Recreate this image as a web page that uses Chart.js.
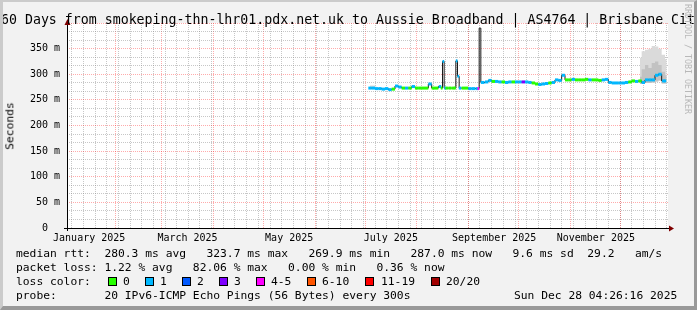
<!DOCTYPE html>
<html>
<head>
<meta charset="utf-8">
<script src="https://cdn.jsdelivr.net/npm/chart.js@4.4.1/dist/chart.umd.min.js"></script>
<style>
  body { margin: 0; background: #f2f2f2; }
  #wrap { position: relative; width: 697px; height: 310px; overflow: hidden; background: #f2f2f2; }
  #graph { position: absolute; left: 0; top: 0; }
  .txt { position: absolute; font-family: 'DejaVu Sans Mono', monospace; font-size: 11.3px; line-height: 1; white-space: pre; color: #000; }
  .box { position: absolute; top: 277px; width: 7px; height: 7px; border: 1px solid #000; }
  #title { font-size: 13.25px; left: 1px; top: 13px; }
  #ylabel { left: 10px; top: 126px; transform: translate(-50%, -50%) rotate(-90deg); }
  #mark { left: 684px; top: 4px; font-size: 8.3px; color: #b8b8b8; writing-mode: vertical-rl; }
  #frame { position: absolute; left: 0; top: 0; width: 697px; height: 310px; box-sizing: border-box;
           border-style: solid; border-width: 2px 3px 4px 3px; border-color: #cbcbcb #999 #999 #cbcbcb; pointer-events: none; }
</style>
</head>
<body>
<div id="wrap">
  <canvas id="graph" width="697" height="310" style="width:697px;height:310px"></canvas>
  <div class="txt" id="title">60 Days from smokeping-thn-lhr01.pdx.net.uk to Aussie Broadband | AS4764 | Brisbane City</div>
  <div class="txt" id="ylabel">Seconds</div>
  <div class="txt" id="mark">RRDTOOL / TOBI OETIKER</div>
  <div id="legend"></div>
  <div id="frame"></div>
</div>
<script>
// day numbers count from 1 Jan 2025 (= day 0)
const xMin = 2.2;
const xMax = 362.8;

// median rtt samples (ms) and loss class (index into lossColors, null = uncoloured)
const sampleDays = [184, 186, 188, 190, 192, 194, 196, 198, 200, 202, 204, 206, 208, 210, 212, 214, 216, 218,
  220, 222, 224, 226, 227, 228, 229, 230, 232, 234, 235, 236, 237, 238, 240, 242, 244, 246, 248, 249, 250, 251,
  252, 254, 256, 258, 260, 262, 264, 266, 268, 270, 272, 274, 276, 278, 280, 282, 284, 286, 288, 290, 292, 294,
  296, 298, 300, 302, 304, 306, 308, 310, 312, 314, 316, 318, 320, 322, 324, 326, 328, 330, 332, 334, 336, 338,
  340, 342, 344, 346, 348, 350, 352, 354, 356, 358, 360, 361];
const medianRtt = [273, 273, 272, 272, 271, 272, 270, 271, 277, 275, 273, 273, 273, 276, 273, 273, 273, 273,
  281, 273, 273, 276, 273, 325, 273, 273, 273, 273, 273, 326, 296, 273, 273, 273, 272, 272, 272, 272, 390, 284,
  284, 285, 288, 286, 286, 285, 285, 284, 285, 285, 285, 285, 285, 285, 284, 283, 281, 280, 281, 282, 283, 284,
  289, 288, 298, 289, 289, 290, 289, 289, 289, 290, 289, 289, 289, 288, 289, 290, 284, 283, 283, 283, 283, 284,
  285, 287, 286, 287, 284, 289, 289, 289, 298, 300, 287, 287];
const lossClass = [1, 1, 1, 1, 1, 1, 1, 0, 1, 1, 0, 1, 0, 1, 0, 0, 0, 0,
  1, 0, 0, 1, 0, 1, 1, 0, 0, 0, 0, 1, 1, 1, 0, 0, 1, 1, 1, 4, null, 1,
  1, 1, 1, 0, 1, 1, 0, 1, 1, 0, 1, 1, 3, 1, 1, 0, 0, 1, 1, 1, 0, 1,
  1, 1, 1, 0, 0, 1, 0, 0, 0, 0, 1, 0, 0, 0, 1, 1, 1, 1, 1, 1, 1, 1,
  0, 0, 1, 0, 1, 1, 1, 1, 1, 1, 1, 1];

const lossColors = ['#26ff00', '#00b8ff', '#0059ff', '#7e00ff', '#ff00ff', '#ff5500', '#ff0000', '#a10000'];
const lossLabels = ['0', '1', '2', '3', '4-5', '6-10', '11-19', '20/20'];

// smoke (ping spread) bands, ms
const smokeDays = [184, 186, 188, 200, 346, 348, 350, 352, 354, 356, 358, 360, 362];
const smokeLow  = [272, 272, 271, null, 281, 281, 283, 283, 284, 286, 288, 282, 282];
const smokeMid  = [274, 274, 273, null, 295, 310, 318, 312, 322, 325, 318, 305, 298];
const smokeHigh = [278, 278, 276, null, 332, 345, 348, 350, 355, 354, 350, 338, 330];

// axis ticks
const monthStartDays = [31, 59, 90, 120, 151, 181, 212, 243, 273, 304, 334];
const monthLabelDays = [15.5, 74.5, 135.5, 196.5, 258.5, 319.5];
const monthLabels = ['January 2025', 'March 2025', 'May 2025', 'July 2025', 'September 2025', 'November 2025'];
const yMax = 400;
const yMajorStep = 50;
const yMinorPerMajor = 3;

const axisFont = { family: 'DejaVu Sans Mono', size: 10 };

const xGridTicks = [];
for (let d = 5; d < xMax; d += 7) xGridTicks.push({ value: d, major: false });
monthStartDays.forEach(d => xGridTicks.push({ value: d, major: true }));
xGridTicks.sort((a, b) => a.value - b.value);

const yGridTicks = [];
for (let k = 0; k * yMajorStep / yMinorPerMajor <= yMax + 0.001; k++) {
  yGridTicks.push({ value: k * yMajorStep / yMinorPerMajor, major: k % yMinorPerMajor === 0 });
}

const majorGrid = 'rgba(255,0,0,0.33)';
const minorGrid = 'rgba(130,130,130,0.45)';

const pxPerDay = chart => chart.scales.x.getPixelForValue(1) - chart.scales.x.getPixelForValue(0);

const tickRadius = ctx => {
  const i = ctx.dataIndex;
  if (lossClass[i] === null) return 0;
  const n = sampleDays.length;
  const left = i > 0 ? (sampleDays[i - 1] + sampleDays[i]) / 2 : sampleDays[i] - 1;
  const right = i < n - 1 ? (sampleDays[i] + sampleDays[i + 1]) / 2 : sampleDays[i] + 1;
  return (right - left) / 2 * pxPerDay(ctx.chart);
};

const plotBackground = {
  id: 'plotBackground',
  beforeDraw(chart) {
    const { ctx, chartArea: a } = chart;
    ctx.save();
    ctx.fillStyle = '#ffffff';
    ctx.fillRect(a.left, a.top, a.right - a.left, a.bottom - a.top);
    ctx.restore();
  }
};

const axisArrows = {
  id: 'axisArrows',
  afterDraw(chart) {
    const { ctx, chartArea: a } = chart;
    ctx.save();
    ctx.strokeStyle = '#000';
    ctx.lineWidth = 1;
    ctx.beginPath();
    ctx.moveTo(a.left + 0.5, a.bottom + 3);
    ctx.lineTo(a.left + 0.5, a.top - 1);
    ctx.moveTo(a.left - 3, a.bottom + 0.5);
    ctx.lineTo(a.right + 2, a.bottom + 0.5);
    ctx.stroke();
    ctx.fillStyle = '#7f0000';
    ctx.beginPath();
    ctx.moveTo(a.left + 0.5, a.top - 4);
    ctx.lineTo(a.left - 2.5, a.top + 2);
    ctx.lineTo(a.left + 3.5, a.top + 2);
    ctx.closePath();
    ctx.fill();
    ctx.beginPath();
    ctx.moveTo(a.right + 6, a.bottom + 0.5);
    ctx.lineTo(a.right + 1, a.bottom - 2.5);
    ctx.lineTo(a.right + 1, a.bottom + 3.5);
    ctx.closePath();
    ctx.fill();
    ctx.restore();
  }
};

const chart = new Chart(document.getElementById('graph').getContext('2d'), {
  type: 'line',
  data: {
    datasets: [
      {
        label: 'loss colour',
        data: sampleDays.map((d, i) => ({ x: d, y: medianRtt[i] })),
        showLine: false,
        pointStyle: 'line',
        pointRadius: tickRadius,
        pointBorderWidth: 3,
        pointBorderColor: ctx => lossClass[ctx.dataIndex] === null ? 'rgba(0,0,0,0)' : lossColors[lossClass[ctx.dataIndex]],
        order: 0
      },
      {
        label: 'median rtt',
        data: sampleDays.map((d, i) => ({ x: d, y: medianRtt[i] })),
        stepped: 'middle',
        borderColor: '#1a1a1a',
        borderWidth: 1,
        pointRadius: 0,
        fill: false,
        order: 1
      },
      {
        label: 'smoke inner',
        data: smokeDays.map((d, i) => ({ x: d, y: smokeMid[i] })),
        stepped: 'middle',
        borderWidth: 0,
        pointRadius: 0,
        backgroundColor: '#c2c2c2',
        fill: 4,
        order: 2
      },
      {
        label: 'smoke outer',
        data: smokeDays.map((d, i) => ({ x: d, y: smokeHigh[i] })),
        stepped: 'middle',
        borderWidth: 0,
        pointRadius: 0,
        backgroundColor: '#dadada',
        fill: 4,
        order: 3
      },
      {
        label: 'smoke base',
        data: smokeDays.map((d, i) => ({ x: d, y: smokeLow[i] })),
        stepped: 'middle',
        borderWidth: 0,
        pointRadius: 0,
        fill: false,
        order: 4
      }
    ]
  },
  options: {
    responsive: false,
    animation: false,
    layout: { padding: { left: 0, right: 29, top: 23, bottom: 0 } },
    plugins: { legend: { display: false }, tooltip: { enabled: false }, title: { display: false } },
    scales: {
      x: {
        type: 'linear',
        position: 'bottom',
        min: xMin,
        max: xMax,
        afterBuildTicks: s => { s.ticks = xGridTicks.map(t => ({ value: t.value })); },
        afterFit: s => { s.height = 0; },
        ticks: { display: false },
        grid: {
          drawTicks: false,
          lineWidth: 1,
          color: ctx => (ctx.tick && xGridTicks[ctx.index] && xGridTicks[ctx.index].major) ? majorGrid : minorGrid
        },
        border: { display: false, dash: [1, 1] }
      },
      xl: {
        type: 'linear',
        position: 'bottom',
        min: xMin,
        max: xMax,
        afterBuildTicks: s => { s.ticks = monthLabelDays.map(v => ({ value: v })); },
        afterFit: s => { s.height = 82; },
        ticks: {
          autoSkip: false,
          maxRotation: 0,
          padding: 4,
          color: '#000',
          font: axisFont,
          callback: (v, i) => monthLabels[i]
        },
        grid: { display: false, drawTicks: false },
        border: { display: false }
      },
      y: {
        type: 'linear',
        min: 0,
        max: yMax,
        afterBuildTicks: s => { s.ticks = yGridTicks.map(t => ({ value: t.value })); },
        afterFit: s => { s.width = 67; },
        ticks: {
          autoSkip: false,
          padding: 7,
          color: '#000',
          font: axisFont,
          callback: (v, i) => {
            const t = yGridTicks[i];
            if (!t || !t.major || t.value >= yMax) return '';
            return t.value === 0 ? '0  ' : t.value + ' m';
          }
        },
        grid: {
          drawTicks: false,
          lineWidth: 1,
          color: ctx => (yGridTicks[ctx.index] && yGridTicks[ctx.index].major) ? majorGrid : minorGrid
        },
        border: { display: false, dash: [1, 1] }
      }
    }
  },
  plugins: [plotBackground, axisArrows]
});

// text legend below the graph
const legendLines = [
  ['median rtt:  280.3 ms avg   323.7 ms max   269.9 ms min   287.0 ms now   9.6 ms sd  29.2   am/s', 16, 248],
  ['packet loss: 1.22 % avg   82.06 % max   0.00 % min   0.36 % now', 16, 262],
  ['loss color:', 16, 276],
  ['probe:       20 IPv6-ICMP Echo Pings (56 Bytes) every 300s', 16, 290],
  ['Sun Dec 28 04:26:16 2025', 514, 290]
];
const lossBoxX = [108, 145, 182, 219, 256, 307, 365, 431];
const lossTextX = [123, 160, 197, 234, 271, 322, 381, 446];

const legend = document.getElementById('legend');
legendLines.forEach(([text, x, y]) => {
  const el = document.createElement('div');
  el.className = 'txt';
  el.textContent = text;
  el.style.left = x + 'px';
  el.style.top = y + 'px';
  legend.appendChild(el);
});
lossLabels.forEach((label, i) => {
  const box = document.createElement('div');
  box.className = 'box';
  box.style.left = lossBoxX[i] + 'px';
  box.style.background = lossColors[i];
  legend.appendChild(box);
  const el = document.createElement('div');
  el.className = 'txt';
  el.textContent = label;
  el.style.left = lossTextX[i] + 'px';
  el.style.top = '276px';
  legend.appendChild(el);
});
</script>
</body>
</html>
